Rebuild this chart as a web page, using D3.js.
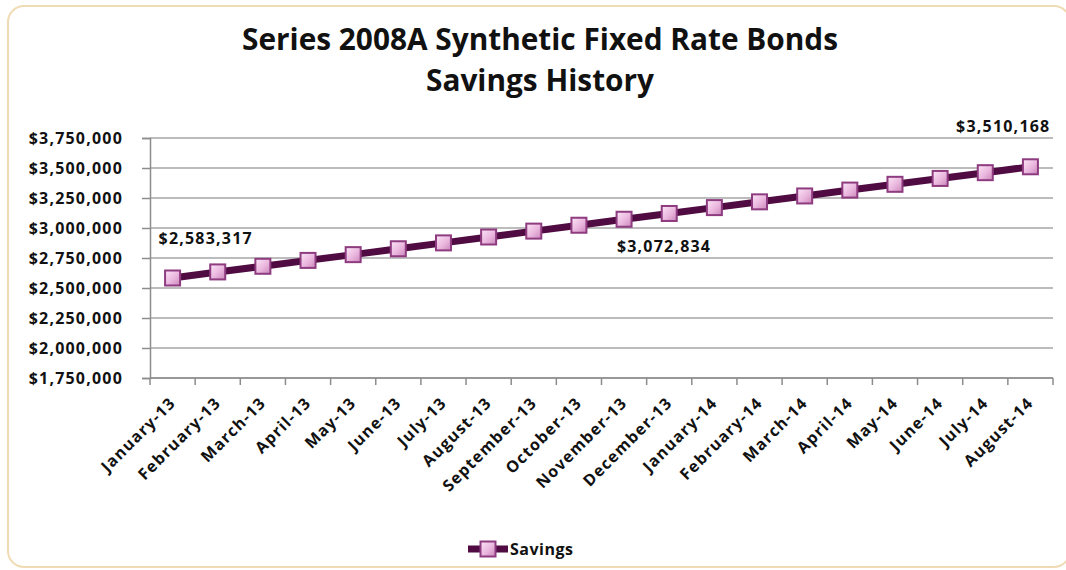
<!DOCTYPE html>
<html>
<head>
<meta charset="utf-8">
<script src="https://cdn.jsdelivr.net/npm/d3@7"></script>
<style>
  body { margin: 0; background: #fff; }
  text { font-family: "Open Sans", "DejaVu Sans", sans-serif; font-weight: 700; fill: #111; }
  .lab { font-size: 16px; letter-spacing: 1.2px; }
</style>
</head>
<body>
<div id="chart"></div>
<script>
// Chart data
var months = ["January-13", "February-13", "March-13", "April-13", "May-13", "June-13",
  "July-13", "August-13", "September-13", "October-13", "November-13", "December-13",
  "January-14", "February-14", "March-14", "April-14", "May-14", "June-14", "July-14", "August-14"];
var savings = [2583317, 2634000, 2681000, 2730000, 2778000, 2827000, 2876000, 2925000,
  2974000, 3023000, 3072834, 3121000, 3170000, 3218000, 3267000, 3316000, 3364000,
  3413000, 3461000, 3510168];
var yTicks = [1750000, 2000000, 2250000, 2500000, 2750000, 3000000, 3250000, 3500000, 3750000];
var labelled = [0, 10, 19];
var seriesName = "Savings";

var svgWidth = 1066;
var svgHeight = 570;
var margin = { top: 138, right: 13, bottom: 192, left: 150 };
var width = svgWidth - margin.left - margin.right;
var height = svgHeight - margin.top - margin.bottom;

var svg = d3.select("#chart").append("svg")
  .attr("width", svgWidth)
  .attr("height", svgHeight);

// gradient for the bevelled square markers
var defs = svg.append("defs");
var grad = defs.append("linearGradient").attr("id", "mk")
  .attr("x1", 0).attr("y1", 0).attr("x2", 1).attr("y2", 1);
grad.append("stop").attr("offset", "0%").attr("stop-color", "#fbe6f6");
grad.append("stop").attr("offset", "55%").attr("stop-color", "#eab6de");
grad.append("stop").attr("offset", "100%").attr("stop-color", "#c986b8");

// outer frame
svg.append("rect")
  .attr("x", 8).attr("y", 6)
  .attr("width", 1062).attr("height", 561)
  .attr("rx", 16)
  .attr("fill", "#fff")
  .attr("stroke", "#f0dcb4")
  .attr("stroke-width", 2);

// title
var title = svg.append("text")
  .attr("text-anchor", "middle")
  .style("font-size", "30px");
title.append("tspan").attr("x", 540).attr("y", 50)
  .attr("textLength", 596).attr("lengthAdjust", "spacingAndGlyphs")
  .text("Series 2008A Synthetic Fixed Rate Bonds");
title.append("tspan").attr("x", 540).attr("y", 91)
  .attr("textLength", 228).attr("lengthAdjust", "spacingAndGlyphs")
  .text("Savings History");

var chartGroup = svg.append("g")
  .attr("transform", `translate(${margin.left}, ${margin.top})`);

var xScale = d3.scaleBand().domain(months).range([0, width]);
var yScale = d3.scaleLinear().domain([1750000, 3750000]).range([height, 0]);

// horizontal gridlines
chartGroup.append("g")
  .selectAll("line")
  .data(yTicks)
  .enter()
  .append("line")
  .attr("x1", 0).attr("x2", width)
  .attr("y1", d => yScale(d)).attr("y2", d => yScale(d))
  .attr("stroke", "#a6a6a6")
  .attr("stroke-width", 1.5);

// y axis
var leftAxis = d3.axisLeft(yScale)
  .tickValues(yTicks)
  .tickSize(8)
  .tickPadding(19)
  .tickFormat(d => "$" + d3.format(",")(d));
var yAxis = chartGroup.append("g").call(leftAxis);
yAxis.select(".domain").attr("stroke", "#8c8c8c").attr("stroke-width", 1.5);
yAxis.selectAll(".tick line").attr("stroke", "#8c8c8c").attr("stroke-width", 1.5);
yAxis.selectAll("text").attr("class", "lab").attr("font-size", null).attr("font-family", null).attr("fill", "#111");

// x axis, ticks between categories
var xAxis = chartGroup.append("g")
  .attr("transform", `translate(0,${height})`);
xAxis.append("line")
  .attr("x1", 0).attr("x2", width)
  .attr("stroke", "#8c8c8c").attr("stroke-width", 1.5);
xAxis.selectAll(".tk")
  .data(months.concat(["end"]))
  .enter()
  .append("line")
  .attr("class", "tk")
  .attr("x1", (d, i) => i * xScale.step())
  .attr("x2", (d, i) => i * xScale.step())
  .attr("y1", 0).attr("y2", 7)
  .attr("stroke", "#8c8c8c").attr("stroke-width", 1.5);
xAxis.selectAll(".xl")
  .data(months)
  .enter()
  .append("text")
  .attr("class", "lab")
  .attr("text-anchor", "end")
  .attr("transform", d => `translate(${xScale(d) + xScale.bandwidth() / 2 + 4},${26}) rotate(-45)`)
  .text(d => d);

// line
var line = d3.line()
  .x((d, i) => xScale(months[i]) + xScale.bandwidth() / 2)
  .y(d => yScale(d));

chartGroup.append("path")
  .datum(savings)
  .attr("d", line)
  .attr("fill", "none")
  .attr("stroke", "#4f0b42")
  .attr("stroke-width", 7);

// markers
var mk = 15;
chartGroup.selectAll(".marker")
  .data(savings)
  .enter()
  .append("rect")
  .attr("class", "marker")
  .attr("x", (d, i) => xScale(months[i]) + xScale.bandwidth() / 2 - mk / 2)
  .attr("y", d => yScale(d) - mk / 2)
  .attr("width", mk).attr("height", mk)
  .attr("fill", "url(#mk)")
  .attr("stroke", "#8e3b80")
  .attr("stroke-width", 2);

// data labels
var labelPos = {
  0: { dx: -14, dy: -34, anchor: "start" },
  10: { dx: 40, dy: 33, anchor: "middle" },
  19: { dx: 20, dy: -35, anchor: "end" }
};
chartGroup.selectAll(".dl")
  .data(labelled)
  .enter()
  .append("text")
  .attr("class", "lab")
  .attr("x", i => xScale(months[i]) + xScale.bandwidth() / 2 + labelPos[i].dx)
  .attr("y", i => yScale(savings[i]) + labelPos[i].dy)
  .attr("text-anchor", i => labelPos[i].anchor)
  .text(i => "$" + d3.format(",")(savings[i]));

// legend
var legend = svg.append("g").attr("transform", "translate(488,549)");
legend.append("line")
  .attr("x1", -20).attr("x2", 20)
  .attr("stroke", "#4f0b42").attr("stroke-width", 7);
legend.append("rect")
  .attr("x", -mk / 2).attr("y", -mk / 2)
  .attr("width", mk).attr("height", mk)
  .attr("fill", "url(#mk)")
  .attr("stroke", "#8e3b80")
  .attr("stroke-width", 2);
legend.append("text")
  .attr("class", "lab")
  .attr("x", 22).attr("y", 6)
  .style("letter-spacing", "0.5px")
  .text(seriesName);
</script>
</body>
</html>
